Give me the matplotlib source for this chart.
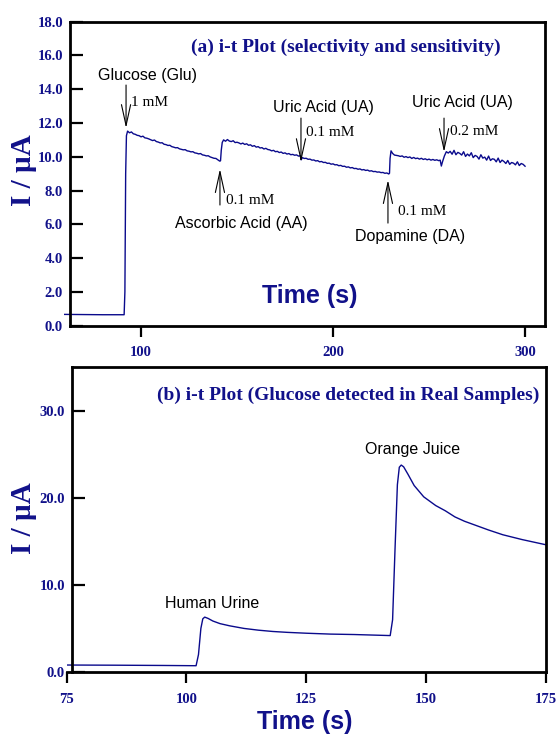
import matplotlib
matplotlib.use('Agg')
import matplotlib.pyplot as plt
from matplotlib.ticker import FormatStrFormatter

NAVY = '#11118a'
LINE = '#0a0a8c'

# ---- panel (a): i-t curve, selectivity and sensitivity
t_a = [60, 70, 80, 91.2, 91.6, 92.0, 92.4, 93.0,
       94, 95, 96, 97, 98, 99, 100, 101, 102, 103, 104, 105, 106, 107, 108, 109,
       110, 111, 112, 113, 114, 115, 116, 117, 118, 119, 120, 121, 122, 123, 124,
       125, 126, 127, 128, 129, 130, 131, 132, 133, 134, 135, 136, 137, 138, 139,
       140, 141, 141.4, 141.8, 142.3, 143.0,
       144, 145, 146, 147, 148, 149, 150, 151, 152, 153, 154, 155, 156, 157, 158,
       159, 160, 161, 162, 163, 164, 165, 166, 167, 168, 169, 170, 171, 172, 173,
       174, 175, 176, 177, 178, 179, 180, 181, 182, 183, 183.4, 184,
       185, 186, 187, 188, 189, 190, 191, 192, 193, 194, 195, 196, 197, 198, 199,
       200, 201, 202, 203, 204, 205, 206, 207, 208, 209, 210, 211, 212, 213, 214,
       215, 216, 217, 218, 219, 220, 221, 222, 223, 224, 225, 226, 227, 228, 229,
       229.4, 229.7, 230.2, 231, 232, 233,
       234, 235, 236, 237, 238, 239, 240, 241, 242, 243, 244, 245, 246, 247, 248,
       249, 250, 251, 252, 253, 254, 255, 255.8, 256.4, 257, 258,
       259, 260, 261, 262, 263, 264, 265, 266, 267, 268, 269, 270, 271, 272, 273,
       274, 275, 276, 277, 278, 279, 280, 281, 282, 283, 284, 285, 286, 287, 288,
       289, 290, 291, 292, 293, 294, 295, 296, 297, 298, 299, 300]
i_a = [0.66, 0.65, 0.64, 0.64, 2.0, 9.0, 11.25, 11.52,
       11.42, 11.47, 11.36, 11.33, 11.27, 11.25, 11.18, 11.22, 11.12, 11.10, 11.06, 11.01, 10.96, 10.99, 10.90, 10.87,
       10.82, 10.83, 10.74, 10.72, 10.67, 10.68, 10.60, 10.57, 10.53, 10.54, 10.47, 10.44, 10.41, 10.42, 10.35,
       10.33, 10.29, 10.30, 10.23, 10.21, 10.17, 10.19, 10.11, 10.09, 10.05, 10.06, 9.99, 9.95, 9.91, 9.90,
       9.82, 9.74, 9.76, 10.40, 10.85, 11.00,
       10.92, 11.02, 10.93, 10.90, 10.95, 10.84, 10.86, 10.82, 10.76, 10.81, 10.73, 10.77, 10.68, 10.71, 10.62,
       10.66, 10.57, 10.60, 10.52, 10.54, 10.46, 10.50, 10.43, 10.41, 10.35, 10.38, 10.30, 10.32, 10.25, 10.28,
       10.20, 10.23, 10.16, 10.19, 10.12, 10.14, 10.09, 10.11, 10.04, 10.06, 9.82, 9.95,
       9.90, 9.91, 9.85, 9.86, 9.80, 9.81, 9.75, 9.77, 9.70, 9.72, 9.66, 9.67, 9.61, 9.62, 9.56,
       9.58, 9.52, 9.53, 9.47, 9.49, 9.43, 9.44, 9.38, 9.40, 9.34, 9.36, 9.30, 9.31, 9.26, 9.28,
       9.22, 9.24, 9.19, 9.21, 9.15, 9.17, 9.12, 9.13, 9.09, 9.10, 9.06, 9.07, 9.02, 9.04, 8.98,
       9.02, 9.90, 10.35, 10.20, 10.10, 10.08,
       10.06, 10.02, 10.05, 9.97, 10.01, 9.95, 9.99, 9.90, 9.96, 9.89, 9.92, 9.86, 9.91, 9.84, 9.88,
       9.82, 9.86, 9.80, 9.84, 9.79, 9.82, 9.77, 9.80, 9.45, 9.70, 10.05,
       10.30, 10.22, 10.32, 10.15, 10.38, 10.12, 10.26, 10.20, 10.10, 10.30, 10.02, 10.16, 10.05, 10.24, 9.95,
       10.08, 10.02, 9.86, 10.12, 9.92, 9.98, 9.80, 10.04, 9.78, 9.88, 9.85, 9.70, 9.92, 9.66, 9.80,
       9.72, 9.60, 9.78, 9.55, 9.66, 9.62, 9.52, 9.70, 9.48, 9.60, 9.55, 9.44]

# annotations (a): label, label pos, arrow x, arrow from/to, conc text pos
notes_a = [
    ('Glucose (Glu)', (103.6, 14.84), 92.2, 14.25, 11.7, '1 mM', (94.8, 13.24)),
    ('Ascorbic Acid (AA)', (152.1, 6.07), 141.1, 7.14, 9.27, '0.1 mM', (144.3, 7.43)),
    ('Uric Acid (UA)', (194.8, 12.94), 183.3, 12.29, 9.68, '0.1 mM', (185.9, 11.46)),
    ('Dopamine (DA)', (240.1, 5.30), 228.6, 6.07, 8.62, '0.1 mM', (233.9, 6.78)),
    ('Uric Acid (UA)', (267.2, 13.24), 257.8, 12.29, 10.28, '0.2 mM', (260.9, 11.52)),
]

# ---- panel (b): real samples
t_b = [75, 85, 95, 102.0, 102.5, 103.0, 103.4, 103.8, 104.5, 105.5, 107, 109, 112,
       115, 118, 121, 125, 130, 135, 140, 142.5, 143.0, 143.5, 144.0, 144.4, 144.8,
       145.3, 146.2, 147.5, 149.5, 152, 154, 156, 158, 160, 163, 166, 170, 175]
i_b = [0.8, 0.78, 0.75, 0.72, 2.0, 5.0, 6.1, 6.3, 6.15, 5.85, 5.55, 5.3, 5.0,
       4.8, 4.65, 4.55, 4.45, 4.35, 4.3, 4.22, 4.18, 6.0, 14.0, 21.5, 23.5, 23.75,
       23.55, 22.7, 21.4, 20.1, 19.1, 18.5, 17.8, 17.3, 16.9, 16.3, 15.75, 15.2, 14.6]
notes_b = [('Human Urine', (105.3, 7.9)), ('Orange Juice', (147.2, 25.5))]

serif = 'Liberation Serif'
sans = 'Liberation Sans'

fig = plt.figure(figsize=(5.57, 7.37), dpi=100)


def style(ax, xticks, yticks, yfmt):
    for s in ax.spines.values():
        s.set_linewidth(2.0)
    ax.set_xticks(xticks)
    ax.set_yticks(yticks)
    ax.yaxis.set_major_formatter(FormatStrFormatter(yfmt))
    ax.tick_params(axis='y', direction='in', length=9, width=1.6, pad=5,
                   labelsize=10.5, labelcolor=NAVY)
    ax.tick_params(axis='x', direction='out', length=8, width=1.6, pad=7,
                   labelsize=10.5, labelcolor=NAVY)
    for lab in ax.get_xticklabels() + ax.get_yticklabels():
        lab.set_fontfamily(serif)
        lab.set_fontweight('bold')


ax0 = fig.add_axes([0.1153, 0.5583, 0.8632, 0.4122])
ax0.plot(t_a, i_a, color=LINE, lw=1.0)
ax0.set_xlim(60, 310.4)
ax0.set_ylim(0, 18)
ax0.spines['left'].set_position(('data', 63))
ax0.spines['bottom'].set_bounds(63, 310.4)
ax0.spines['top'].set_bounds(63, 310.4)
style(ax0, [100, 200, 300], range(0, 19, 2), '%.1f')
for lab, lpos, ax_x, y0, y1, conc, cpos in notes_a:
    ax0.text(*lpos, lab, ha='center', va='center', fontsize=11.5, family=sans)
    ax0.annotate('', xy=(ax_x, y1), xytext=(ax_x, y0),
                 arrowprops=dict(arrowstyle='->,head_length=1.0,head_width=0.22',
                                 lw=0.8, color='k', mutation_scale=15,
                                 shrinkA=0, shrinkB=0))
    ax0.text(*cpos, conc, ha='left', va='center', fontsize=11, family=serif)
ax0.text(0.586, 0.917, '(a) i-t Plot (selectivity and sensitivity)', transform=ax0.transAxes,
         ha='center', va='center', fontsize=14, family=serif, weight='bold', color=NAVY)
ax0.text(0.511, 0.097, 'Time (s)', transform=ax0.transAxes, ha='center', va='center',
         fontsize=18, family=sans, weight='bold', color=NAVY)

ax1 = fig.add_axes([0.1197, 0.0882, 0.8605, 0.4138])
ax1.plot(t_b, i_b, color=LINE, lw=1.0)
ax1.set_xlim(75, 175)
ax1.set_ylim(0, 35)
ax1.spines['left'].set_position(('data', 76.1))
ax1.spines['top'].set_bounds(76.1, 175)
style(ax1, [75, 100, 125, 150, 175], [0, 10, 20, 30], '%.1f')
for lab, lpos in notes_b:
    ax1.text(*lpos, lab, ha='center', va='center', fontsize=11.5, family=sans)
ax1.text(0.588, 0.908, '(b) i-t Plot (Glucose detected in Real Samples)', transform=ax1.transAxes,
         ha='center', va='center', fontsize=14, family=serif, weight='bold', color=NAVY)
ax1.text(0.497, -0.164, 'Time (s)', transform=ax1.transAxes, ha='center', va='center',
         fontsize=18, family=sans, weight='bold', color=NAVY)

for yc in (0.769, 0.2965):
    fig.text(0.042, yc, 'I / µA', rotation=90, ha='center', va='center',
             fontsize=21, family=serif, weight='bold', color=NAVY)

fig.savefig('out.png', dpi=100)
